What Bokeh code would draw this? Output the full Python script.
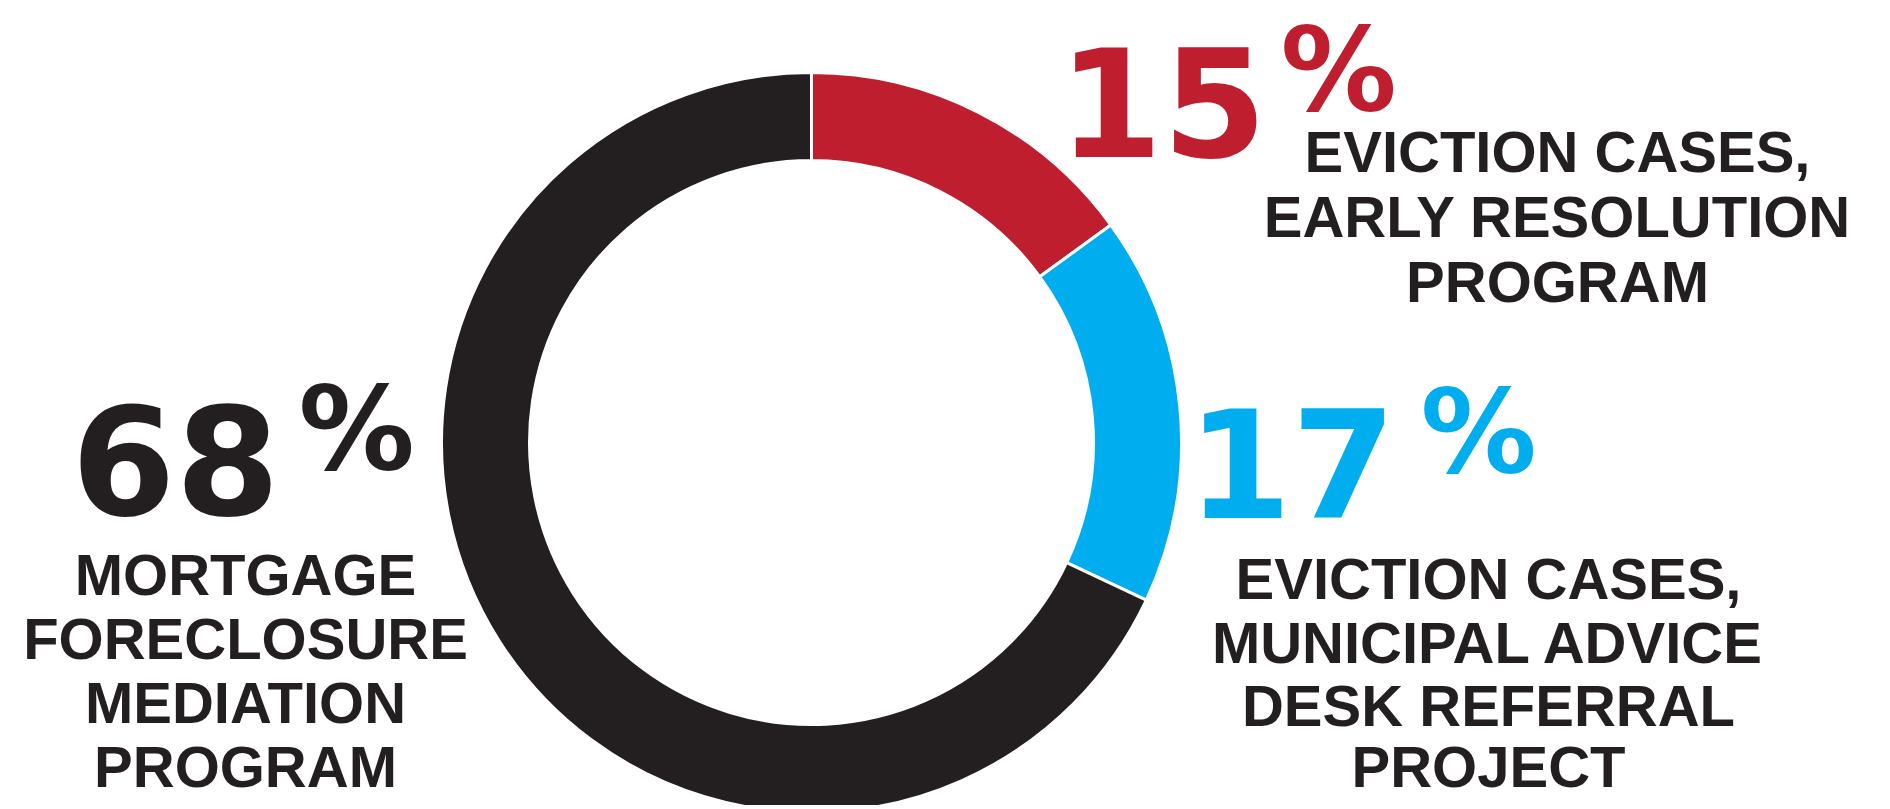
from bokeh.plotting import figure
from bokeh.models import Range1d, ColumnDataSource
from bokeh.embed import file_html
from bokeh.resources import INLINE
from bokeh.core.properties import value
import math

# ---- data ----
programs = ["Eviction cases, Early Resolution Program",
            "Eviction cases, Municipal Advice Desk Referral Project",
            "Mortgage Foreclosure Mediation Program"]
shares = [15, 17, 68]
colors = ["#BE1E2D", "#00AEEF", "#231F20"]
pct_labels = ["15", "17", "68"]
label_lines = [
    ["EVICTION CASES,", "EARLY RESOLUTION", "PROGRAM"],
    ["EVICTION CASES,", "MUNICIPAL ADVICE", "DESK REFERRAL", "PROJECT"],
    ["MORTGAGE", "FORECLOSURE", "MEDIATION", "PROGRAM"],
]

# ---- layout (pixel-like coordinates, y downward negated) ----
W, H = 1886, 805
p = figure(width=W, height=H, output_backend="svg", toolbar_location=None,
           x_range=Range1d(0, W), y_range=Range1d(-H, 0),
           x_axis_type=None, y_axis_type=None, min_border=0)
p.outline_line_color = None
p.background_fill_color = "white"

cx, cy = 811, -442
r_out, r_in = 370, 282

total = sum(shares)
starts, ends = [], []
cum = 0.0
for s in shares:
    a_end = math.pi / 2 - 2 * math.pi * cum / total
    cum += s
    a_start = math.pi / 2 - 2 * math.pi * cum / total
    starts.append(a_start)
    ends.append(a_end)

src = ColumnDataSource(dict(x=[cx] * 3, y=[cy] * 3, start=starts, end=ends, color=colors))
p.annular_wedge(x="x", y="y", inner_radius=r_in, outer_radius=r_out,
                start_angle="start", end_angle="end", direction="anticlock",
                fill_color="color", line_color="white", line_width=3, source=src)

# big numbers: (center x, anchor y) per slice
num_pos = [(1162, 101), (1291, 462), (175, 459)]
pct_pos = [(1338, 69), (1478, 431), (356, 428)]
num_font = value("DejaVu Sans")
for i in range(3):
    nx, ny = num_pos[i]
    p.text(x=[nx], y=[-ny], text=[pct_labels[i]], text_color=colors[i],
           text_font=num_font, text_font_style="bold", text_font_size="150px",
           text_align="center", text_baseline="alphabetic")
    qx, qy = pct_pos[i]
    p.text(x=[qx], y=[-qy], text=["%"], text_color=colors[i],
           text_font=num_font, text_font_style="bold", text_font_size="116px",
           text_align="center", text_baseline="alphabetic")

# descriptive labels
lab_pos = [(1557, [151, 216, 281]),
           (1488, [578, 642, 705, 766]),
           (245, [574, 638, 702, 766])]
lab_font = value("Liberation Sans")
for i in range(3):
    lx, ys = lab_pos[i]
    lines = label_lines[i]
    p.text(x=[lx] * len(lines), y=[-y for y in ys], text=lines, text_color="#231F20",
           text_font=lab_font, text_font_style="bold", text_font_size="58px",
           text_align="center", text_baseline="alphabetic")

open("out.html", "w").write(file_html(p, INLINE))
